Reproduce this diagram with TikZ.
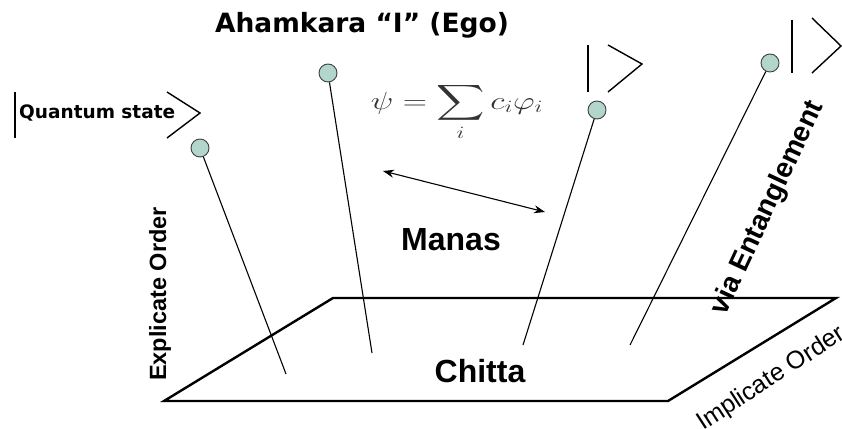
\documentclass[tikz,border=0pt]{standalone}
\usepackage{amsmath}
\usepackage{fontspec}
\setmainfont{Liberation Sans}
\newfontfamily\dejavu{DejaVu Sans}
\usetikzlibrary{arrows.meta}
\definecolor{beadfill}{RGB}{178,214,204}

\begin{document}
\begin{tikzpicture}[
            x=1pt, y=-1pt,
            bead/.style={circle, draw=black!75, fill=beadfill,
            minimum size=18pt, inner sep=0pt, line width=0.9pt},
            stem/.style={line width=1.1pt},
            floor/.style={line width=2.4pt, line join=miter},
            ketline/.style={line width=1.4pt},
            lbl/.style={inner sep=0pt, font=\fontsize{32}{38}\selectfont\bfseries},
            edge/.style={{Stealth[length=11pt,width=8pt]}-{Stealth[length=11pt,width=8pt]}, line width=1.1pt}
        ]
            \path[use as bounding box] (0,0) rectangle (842,428);
            \clip (0,0) rectangle (842,428);
% floor: Chitta plane
            \coordinate (fl) at (164,401);
            \coordinate (fr) at (668,401);
            \coordinate (br) at (836,298);
            \coordinate (bl) at (333,298);
            \draw[floor] (fl) -- (fr) -- (br) -- (bl) -- cycle;
% beads on stems
            \node[bead] (b1) at (200,148) {};
            \node[bead] (b2) at (328,73)  {};
            \node[bead] (b3) at (597,110) {};
            \node[bead] (b4) at (770,63)  {};
            \coordinate (s1) at (286,374);
            \coordinate (s2) at (372,353);
            \coordinate (s3) at (523,345);
            \coordinate (s4) at (630,345);
            \draw[stem] (b1) -- (s1);
            \draw[stem] (b2) -- (s2);
            \draw[stem] (b3) -- (s3);
            \draw[stem] (b4) -- (s4);
% kets
            \node[anchor=west, inner sep=0pt, font=\dejavu\bfseries\fontsize{18.5}{22}\selectfont] (qs) at (19,113) {Quantum state};
            \draw[ketline] (15,92) -- (15,138);
            \draw[ketline] (167,92) -- (200,113) -- (167,138);
            \draw[ketline] (588,45) -- (588,92);
            \draw[ketline] (608,45) -- (642,64) -- (608,92);
            \draw[ketline] (792,20) -- (792,73);
            \draw[ketline] (812,18) -- (841,46) -- (812,73);
% labels
            \node[anchor=base, inner sep=0pt, font=\dejavu\bfseries\fontsize{26.5}{30}\selectfont] (ego) at (362,33) {Ahamkara “I” (Ego)};
            \node[inner sep=0pt, text=black!80] (psi) at (457,112) {\scalebox{1.35}[1]{\fontsize{25}{30}\selectfont$\displaystyle \psi=\sum_i c_i\varphi_i$}};
            \node[lbl, anchor=base] (manas) at (451,250) {Manas};
            \node[lbl, anchor=base] (chitta) at (480,382) {Chitta};
            \node[lbl, font=\fontsize{23.5}{26}\selectfont\bfseries, rotate=90, anchor=base west] (expl) at (166,381) {Explicate Order};
            \node[lbl, font=\fontsize{28}{32}\selectfont\bfseries, rotate=65, anchor=center] (ent) at (768,208) {via Entanglement};
            \node[lbl, font=\fontsize{25}{30}\selectfont, rotate=33, anchor=base west] (impl) at (703,431) {Implicate Order};
% manas link
            \coordinate (m1) at (383,171);
            \coordinate (m2) at (545,212);
            \draw[edge] (m1) -- (m2);
        \end{tikzpicture}
\end{document}
